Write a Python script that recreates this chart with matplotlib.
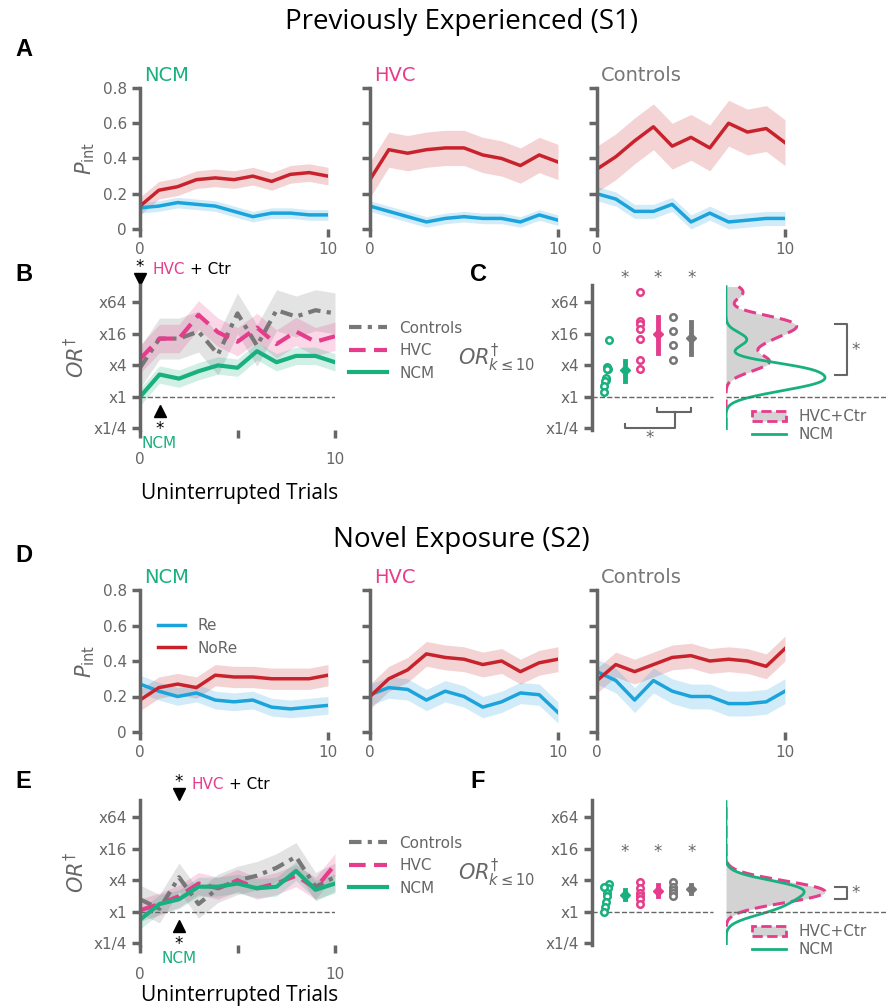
import numpy as np
import matplotlib.pyplot as plt
from matplotlib.patches import Patch
from matplotlib.lines import Line2D

RED = '#c8232c'
BLUE = '#1ba3dc'
GREEN = '#19b07f'
PINK = '#e63c8c'
GRAY = '#777777'
AX = '#666666'

trials = np.arange(11)

# ---- S1, P_int (mean, band half-width)
a_ncm_nore = [0.13, 0.22, 0.24, 0.28, 0.29, 0.28, 0.30, 0.27, 0.31, 0.32, 0.30]
a_ncm_re = [0.12, 0.13, 0.15, 0.14, 0.13, 0.10, 0.07, 0.09, 0.09, 0.08, 0.08]
a_hvc_nore = [0.28, 0.45, 0.43, 0.45, 0.46, 0.46, 0.42, 0.40, 0.36, 0.42, 0.38]
a_hvc_re = [0.13, 0.10, 0.07, 0.04, 0.06, 0.07, 0.06, 0.06, 0.04, 0.08, 0.05]
a_ctr_nore = [0.34, 0.41, 0.50, 0.58, 0.47, 0.52, 0.46, 0.60, 0.55, 0.57, 0.49]
a_ctr_re = [0.20, 0.17, 0.10, 0.10, 0.14, 0.04, 0.09, 0.04, 0.05, 0.06, 0.06]
a_err_nore = [0.05, 0.10, 0.13]
a_err_re = [0.03, 0.03, 0.04]

# ---- S2, P_int
d_ncm_nore = [0.18, 0.25, 0.27, 0.25, 0.32, 0.31, 0.31, 0.30, 0.30, 0.30, 0.32]
d_ncm_re = [0.27, 0.23, 0.20, 0.22, 0.18, 0.17, 0.18, 0.14, 0.13, 0.14, 0.15]
d_hvc_nore = [0.20, 0.30, 0.35, 0.44, 0.42, 0.41, 0.38, 0.40, 0.34, 0.39, 0.41]
d_hvc_re = [0.21, 0.25, 0.24, 0.18, 0.23, 0.20, 0.14, 0.17, 0.22, 0.21, 0.11]
d_ctr_nore = [0.29, 0.38, 0.34, 0.38, 0.42, 0.43, 0.40, 0.41, 0.40, 0.37, 0.47]
d_ctr_re = [0.34, 0.29, 0.18, 0.29, 0.23, 0.20, 0.20, 0.16, 0.16, 0.17, 0.23]
d_err_nore = [0.06, 0.07, 0.07]
d_err_re = [0.05, 0.06, 0.07]

# ---- OR (log2 units)
b_ncm = [0.0, 1.42, 1.16, 1.63, 2.0, 1.85, 2.9, 2.2, 2.6, 2.6, 2.2]
b_hvc = [2.4, 3.7, 3.7, 5.2, 4.1, 3.5, 4.4, 3.35, 4.15, 3.5, 3.85]
b_ctr = [1.85, 3.7, 3.7, 4.15, 2.7, 5.3, 3.25, 5.5, 5.1, 5.5, 5.3]
b_err = [0.55, 0.9, 1.3]
e_ncm = [-0.5, 0.5, 0.8, 1.6, 1.6, 1.8, 1.5, 1.6, 2.6, 1.4, 1.8]
e_hvc = [0.1, 0.5, 1.0, 1.8, 1.5, 2.0, 1.5, 1.8, 2.3, 1.5, 3.0]
e_ctr = [0.8, 0.2, 2.2, 0.5, 1.5, 2.0, 2.3, 2.8, 3.5, 1.6, 2.2]
e_err = [0.6, 0.7, 0.9]

# ---- per-bird OR_k<=10 (log2) and mean / CI
c_ncm = [3.64, 1.75, 1.9, 1.8, 1.1, 1.2, 1.0, 0.7, 0.34]
c_hvc = [6.65, 4.8, 4.6, 4.3, 3.7, 2.34, 1.75]
c_ctr = [5.05, 4.17, 3.3, 2.36]
c_mean = [1.7, 4.0, 3.75]
c_ci = [(1.0, 2.3), (2.8, 5.1), (2.7, 4.75)]
f_ncm = [1.8, 1.5, 1.2, 1.0, 0.6, 0.3, 0.0, 1.6]
f_hvc = [1.9, 1.5, 1.2, 1.0, 0.8, 0.5]
f_ctr = [1.9, 1.6, 1.4, 1.2, 1.0]
f_mean = [1.1, 1.3, 1.45]
f_ci = [(0.8, 1.4), (1.0, 1.7), (1.2, 1.7)]

or_ticks = [-2, 0, 2, 4, 6]
or_labels = ['x1/4', 'x1', 'x4', 'x16', 'x64']

W, H = 887, 1008
fig = plt.figure(figsize=(W / 100, H / 100), dpi=100)


def add_ax(x0, x1, ytop, ybot):
    return fig.add_axes([x0 / W, 1 - ybot / H, (x1 - x0) / W, (ybot - ytop) / H])


def style(ax):
    for s in ['top', 'right', 'bottom']:
        ax.spines[s].set_visible(False)
    ax.spines['left'].set_color(AX)
    ax.spines['left'].set_linewidth(2.5)
    ax.tick_params(colors=AX, labelcolor=AX, width=2.5, length=6, labelsize=11)


def pint_row(ytop, ybot, rows, err_nore, err_re, with_legend):
    names = [('NCM', GREEN), ('HVC', PINK), ('Controls', GRAY)]
    lefts = [140, 370, 597]
    for i, (x0, (nore, re), (nm, col)) in enumerate(zip(lefts, rows, names)):
        ax = add_ax(x0, x0 + 188, ytop, ybot)
        style(ax)
        nore = np.array(nore)
        re = np.array(re)
        ax.fill_between(trials, nore - err_nore[i], nore + err_nore[i], color=RED, alpha=0.2, lw=0)
        ax.fill_between(trials, re - err_re[i], re + err_re[i], color=BLUE, alpha=0.2, lw=0)
        ax.plot(trials, re, color=BLUE, lw=2.5, label='Re')
        ax.plot(trials, nore, color=RED, lw=2.5, label='NoRe')
        ax.set_ylim(0, 0.8)
        ax.set_xlim(0, 10)
        ax.set_xticks([0, 10])
        ax.set_yticks([0, 0.2, 0.4, 0.6, 0.8])
        if i == 0:
            ax.set_yticklabels(['0', '0.2', '0.4', '0.6', '0.8'])
            ax.set_ylabel(r'$P_{\mathrm{int}}$', color=AX, fontsize=15)
            if with_legend:
                ax.legend(loc='upper left', frameon=False, fontsize=11, labelcolor=AX,
                          bbox_to_anchor=(0.02, 0.9), handlelength=1.8)
        else:
            ax.set_yticklabels([])
        ax.text(0.02, 1.02, nm, color=col, fontsize=14, transform=ax.transAxes, va='bottom')


def or_panel(ytop, ybot, ncm, hvc, ctr, err, mark_x_top, mark_x_bot):
    ax = add_ax(140, 335, ytop, ybot)
    style(ax)
    for y, e, c in [(ctr, err[2], GRAY), (hvc, err[1], PINK), (ncm, err[0], GREEN)]:
        y = np.array(y)
        ax.fill_between(trials, y - e, y + e, color=c, alpha=0.2, lw=0)
    ax.axhline(0, color=AX, lw=1, ls='--')
    ax.plot(trials, ctr, color=GRAY, lw=3, ls=(0, (3, 1.5, 1, 1.5)), label='Controls')
    ax.plot(trials, hvc, color=PINK, lw=3, ls=(0, (4, 2)), label='HVC')
    ax.plot(trials, ncm, color=GREEN, lw=3, label='NCM')
    ax.set_xlim(0, 10)
    ax.set_ylim(-2.1, 7.1)
    ax.set_yticks(or_ticks)
    ax.set_yticklabels(or_labels)
    ax.set_xticks([0, 5, 10])
    ax.set_xticklabels(['0', '', '10'])
    ax.tick_params(axis='x', pad=10)
    ax.set_ylabel(r'$OR^{\dagger}$', color=AX, fontsize=15)
    ax.legend(loc='upper left', bbox_to_anchor=(1.0, 0.85), frameon=False, fontsize=11,
              labelcolor=AX, handlelength=2.5)
    ax.plot([mark_x_top], [7.5], marker='v', color='k', ms=8, clip_on=False)
    ax.text(mark_x_top, 7.9, '*', ha='center', fontsize=12, clip_on=False)
    ax.text(mark_x_top + 0.65, 7.6, 'HVC', color=PINK, fontsize=11, va='bottom')
    ax.text(mark_x_top + 2.55, 7.6, '+ Ctr', color='k', fontsize=11, va='bottom')
    ax.plot([mark_x_bot], [-0.9], marker='^', color='k', ms=8, clip_on=False)
    ax.text(mark_x_bot, -2.05, '*', ha='center', va='center', fontsize=12, clip_on=False)
    ax.text(mark_x_bot, -2.5, 'NCM', ha='center', va='top', color=GREEN, fontsize=11)
    return ax


def kde(vals, grid, bw):
    vals = np.asarray(vals)
    d = np.exp(-0.5 * ((grid[:, None] - vals[None, :]) / bw) ** 2).sum(axis=1)
    return d / (len(vals) * bw * np.sqrt(2 * np.pi))


def summary_panel(ytop, ybot, ncm, hvc, ctr, means, cis, star_y, bw, dens_bracket, bottom_bracket):
    ax = add_ax(592, 713, ytop, ybot)
    style(ax)
    ax.set_xlim(-0.85, 6.4)
    ax.set_ylim(-2.1, 7.1)
    ax.set_xticks([])
    ax.set_yticks(or_ticks)
    ax.set_yticklabels(or_labels)
    ax.set_ylabel(r'$OR^{\dagger}_{k\leq10}$', color=AX, fontsize=15, rotation=0, labelpad=35, va='center')
    cols = [GREEN, PINK, GRAY]
    for i, (pts, c) in enumerate(zip([ncm, hvc, ctr], cols)):
        x = np.full(len(pts), 2 * i) + np.linspace(-0.15, 0.15, len(pts))[::-1] * (i == 0)
        ax.scatter(x, pts, s=22, facecolor='white', edgecolor=c, linewidth=1.8, zorder=3)
        ax.plot([2 * i + 1.1, 2 * i + 1.1], cis[i], color=c, lw=3.5)
        ax.plot([2 * i + 1.1], [means[i]], marker='D', color=c, ms=5)
        ax.text(2 * i + 1.1, star_y, '*', ha='center', color=AX, fontsize=12, clip_on=False)
    ax.plot([-0.85, 6.4], [0, 0], color=AX, lw=1, ls='--', clip_on=False)
    if bottom_bracket:
        ax.plot([3.07, 3.07, 5.1, 5.1], [-0.7, -0.95, -0.95, -0.7], color=AX, lw=1.5, clip_on=False)
        ax.plot([1.15, 1.15, 4.1, 4.1, 4.1], [-1.7, -2.0, -2.0, -2.0, -0.95], color=AX, lw=1.5, clip_on=False)
        ax.text(2.6, -2.9, '*', ha='center', color=AX, fontsize=12)

    dx = add_ax(726, 830, ytop, ybot)
    dx.axis('off')
    dx.set_ylim(-2.1, 7.1)
    grid = np.linspace(-2.1, 7.0, 300)
    d_hc = kde(list(hvc) + list(ctr), grid, bw)
    d_n = kde(ncm, grid, bw)
    m = max(d_hc.max(), d_n.max())
    dx.set_xlim(0, m * 1.05)
    dx.fill_betweenx(grid, 0, d_hc, color='#d3d3d3', lw=0)
    dx.plot(d_hc, grid, color=PINK, lw=2.2, ls=(0, (4, 2)))
    dx.plot(d_n, grid, color=GREEN, lw=2)
    dx.plot([0, m * 2.0], [0, 0], color=AX, lw=1, ls='--', clip_on=False)
    y0, y1 = dens_bracket
    xb = m * 1.1
    dx.plot([xb, xb + m * 0.12, xb + m * 0.12, xb], [y1, y1, y0, y0], color=AX, lw=1.5, clip_on=False)
    dx.text(xb + m * 0.17, (y0 + y1) / 2, '*', color=AX, fontsize=12, va='center', clip_on=False)
    handles = [Patch(facecolor='#d3d3d3', edgecolor=PINK, ls='--', lw=2), Line2D([], [], color=GREEN, lw=2)]
    dx.legend(handles, ['HVC+Ctr', 'NCM'], loc='lower left', bbox_to_anchor=(0.12, -0.18), frameon=False,
              fontsize=11, labelcolor=AX, handlelength=2.2, labelspacing=0.2)


# ---- titles and letters
fig.text(0.52, 1 - 22 / H, 'Previously Experienced (S1)', ha='center', va='center', fontsize=20, family='Open Sans')
fig.text(0.52, 1 - 540 / H, 'Novel Exposure (S2)', ha='center', va='center', fontsize=20, family='Open Sans')
for lbl, x, y in [('A', 15, 50), ('B', 15, 275), ('C', 470, 275), ('D', 15, 555), ('E', 15, 782), ('F', 470, 782)]:
    fig.text(x / W, 1 - y / H, lbl, fontsize=17, fontweight='bold', family='Liberation Sans', va='center')

pint_row(88, 229, [(a_ncm_nore, a_ncm_re), (a_hvc_nore, a_hvc_re), (a_ctr_nore, a_ctr_re)],
         a_err_nore, a_err_re, False)
pint_row(590, 732, [(d_ncm_nore, d_ncm_re), (d_hvc_nore, d_hvc_re), (d_ctr_nore, d_ctr_re)],
         d_err_nore, d_err_re, True)

or_panel(285, 430, b_ncm, b_hvc, b_ctr, b_err, 0, 1)
fig.text(240 / W, 1 - 493 / H, 'Uninterrupted Trials', ha='center', va='center', fontsize=15, family='Open Sans')
or_panel(800, 945, e_ncm, e_hvc, e_ctr, e_err, 2, 2)
fig.text(240 / W, 1 - 995 / H, 'Uninterrupted Trials', ha='center', va='center', fontsize=15, family='Open Sans')

summary_panel(285, 430, c_ncm, c_hvc, c_ctr, c_mean, c_ci, 7.2, 0.45, (1.37, 4.63), True)
summary_panel(800, 945, f_ncm, f_hvc, f_ctr, f_mean, f_ci, 3.5, 0.5, (0.8, 1.6), False)

fig.savefig('out.png', dpi=100)
